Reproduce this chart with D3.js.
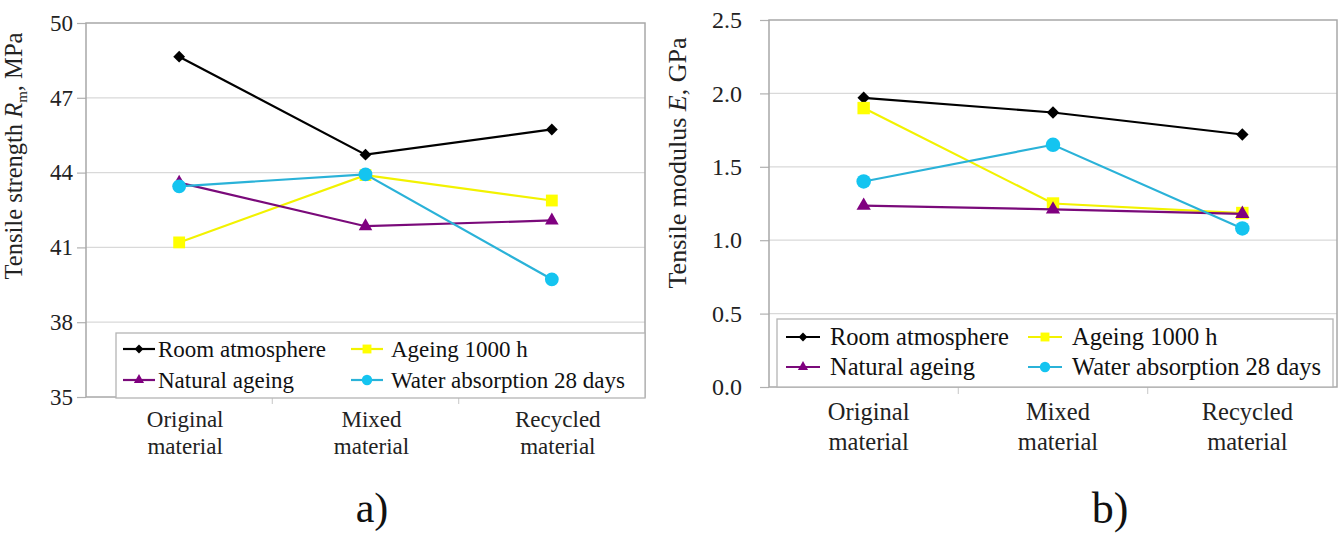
<!DOCTYPE html>
<html>
<head>
<meta charset="utf-8">
<script src="https://cdn.jsdelivr.net/npm/d3@7"></script>
<style>
  html, body { margin: 0; padding: 0; background: #fff; }
  svg { display: block; }
  svg text { font-family: "Liberation Serif", "Times New Roman", serif; }
</style>
</head>
<body>
<svg id="chart" width="1341" height="534"></svg>
<script>
// Material groups along the category axis (two text lines each)
const categories = ["Original material", "Mixed material", "Recycled material"];
const categoryLines = [["Original", "material"], ["Mixed", "material"], ["Recycled", "material"]];

// Conditioning series, in plotting order
const seriesNames = ["Room atmosphere", "Ageing 1000 h", "Natural ageing", "Water absorption 28 days"];

// a) Tensile strength Rm, MPa
const strengthRoom    = [48.65, 44.72, 45.73];
const strengthAgeing  = [41.20, 43.90, 42.88];
const strengthNatural = [43.60, 41.85, 42.08];
const strengthWater   = [43.45, 43.93, 39.72];
const strengthTicks   = [35, 38, 41, 44, 47, 50];

// b) Tensile modulus E, GPa
const modulusRoom    = [1.97, 1.87, 1.72];
const modulusAgeing  = [1.90, 1.25, 1.185];
const modulusNatural = [1.235, 1.21, 1.18];
const modulusWater   = [1.40, 1.65, 1.08];
const modulusTicks   = [0.0, 0.5, 1.0, 1.5, 2.0, 2.5];

const styles = [
  { line: "#000000", fill: "#000000", shape: "diamond" },
  { line: "#f2f200", fill: "#ffff00", shape: "square" },
  { line: "#7a0a7a", fill: "#800080", shape: "triangle" },
  { line: "#2ab2d8", fill: "#14c4f0", shape: "circle" }
];

const svg = d3.select("#chart");

function markerPath(shape, scale) {
  const s = scale || 1;
  if (shape === "diamond") return d3.symbol(d3.symbolSquare, 70 * s * s)();
  if (shape === "square") return d3.symbol(d3.symbolSquare, 140 * s * s)();
  if (shape === "triangle") return d3.symbol(d3.symbolTriangle, 80 * s * s)();
  return d3.symbol(d3.symbolCircle, 150 * s * s)();
}

function drawPanel(p) {
  const g = svg.append("g");
  const x = d3.scalePoint().domain(categories).range([p.x0, p.x1]).padding(0.5);
  const y = d3.scaleLinear().domain([p.ticks[0], p.ticks[p.ticks.length - 1]]).range([p.y1, p.y0]);

  // horizontal gridlines
  g.append("g").selectAll("line").data(p.ticks.slice(1, -1)).join("line")
    .attr("x1", p.x0).attr("x2", p.x1)
    .attr("y1", d => y(d)).attr("y2", d => y(d))
    .attr("stroke", "#d9d9d9").attr("stroke-width", 1.2);

  // value axis with outside ticks
  const ya = g.append("g").attr("transform", `translate(${p.x0},0)`)
    .call(d3.axisLeft(y).tickValues(p.ticks).tickFormat(p.fmt)
      .tickSize(p.tickLen).tickPadding(p.tickPad));
  ya.attr("font-family", null).attr("font-size", null);
  ya.select(".domain").remove();
  ya.selectAll(".tick line").attr("stroke", "#b0b0b0").attr("stroke-width", 1.2);
  ya.selectAll(".tick text").attr("fill", "#222").attr("font-size", p.tickFont);

  // category separators below the axis
  const step = x.step();
  g.append("g").selectAll("line").data(categories.slice(1)).join("line")
    .attr("x1", d => x(d) - step / 2).attr("x2", d => x(d) - step / 2)
    .attr("y1", p.y1).attr("y2", p.y1 + 7)
    .attr("stroke", "#d0d0d0").attr("stroke-width", 1.2);

  // plot frame
  g.append("rect").attr("x", p.x0).attr("y", p.y0)
    .attr("width", p.x1 - p.x0).attr("height", p.y1 - p.y0)
    .attr("fill", "none").attr("stroke", "#a8a8a8").attr("stroke-width", 1.5);

  // category labels
  const cl = g.append("g").selectAll("text").data(categories).join("text")
    .attr("text-anchor", "middle").attr("font-size", p.catFont).attr("fill", "#222");
  cl.each(function (d, i) {
    const t = d3.select(this);
    categoryLines[i].forEach((line, k) => {
      t.append("tspan").attr("x", x(d) + p.catDx).attr("y", p.catY + k * p.catGap).text(line);
    });
  });

  // series lines and markers
  p.series.forEach((vals, si) => {
    const st = styles[si];
    const pts = vals.map((v, i) => [x(categories[i]), y(v)]);
    g.append("path").attr("d", d3.line()(pts))
      .attr("fill", "none").attr("stroke", st.line).attr("stroke-width", 2.2);
    g.append("g").selectAll("path").data(pts).join("path")
      .attr("d", markerPath(st.shape, p.markerScale))
      .attr("transform", d => `translate(${d[0]},${d[1]})` + (st.shape === "diamond" ? " rotate(45)" : ""))
      .attr("fill", st.fill);
  });

  // axis title
  const title = g.append("text")
    .attr("transform", `translate(${p.titleX},${p.titleY}) rotate(-90)`)
    .attr("text-anchor", "middle").attr("font-size", p.titleFont).attr("fill", "#222");
  p.title(title);

  // legend
  const L = p.legend;
  g.append("rect").attr("x", L.x0).attr("y", L.y0)
    .attr("width", L.x1 - L.x0).attr("height", L.y1 - L.y0)
    .attr("fill", "#fff").attr("stroke", "#b4b4b4").attr("stroke-width", 1.3);
  seriesNames.forEach((name, si) => {
    const col = si % 2, row = Math.floor(si / 2);
    const lx = L.cols[col], ly = L.rows[row];
    const st = styles[si];
    const item = g.append("g");
    item.append("line").attr("x1", lx).attr("x2", lx + L.symW)
      .attr("y1", ly).attr("y2", ly).attr("stroke", st.line).attr("stroke-width", 2.2);
    item.append("path").attr("d", markerPath(st.shape, 0.75))
      .attr("transform", `translate(${lx + L.symW / 2},${ly})` + (st.shape === "diamond" ? " rotate(45)" : ""))
      .attr("fill", st.fill);
    item.append("text").attr("x", lx + L.symW + L.textGap[col]).attr("y", ly)
      .attr("dy", "0.34em").attr("font-size", L.font).attr("fill", "#111").text(name);
  });

  // panel tag
  g.append("text").attr("x", p.tagX).attr("y", p.tagY).attr("text-anchor", "middle")
    .attr("font-size", p.tagFont).attr("fill", "#111").text(p.tag);
}

drawPanel({
  x0: 86, x1: 645, y0: 23, y1: 397,
  ticks: strengthTicks, fmt: d3.format("d"),
  tickLen: 9, tickPad: 4, tickFont: 23,
  catY: 427, catGap: 27, catDx: 6, catFont: 23,
  series: [strengthRoom, strengthAgeing, strengthNatural, strengthWater],
  markerScale: 1,
  titleX: 22, titleY: 156, titleFont: 24.5,
  title: t => {
    t.append("tspan").text("Tensile strength ");
    t.append("tspan").attr("font-style", "italic").text("R");
    t.append("tspan").attr("font-size", 15).attr("dy", 5).text("m");
    t.append("tspan").attr("dy", -5).text(", MPa");
  },
  legend: { x0: 116, x1: 645, y0: 333, y1: 398, cols: [123, 351], rows: [349, 380], symW: 32, textGap: [3, 8], font: 23 },
  tag: "a)", tagX: 372, tagY: 522, tagFont: 42
});

drawPanel({
  x0: 769, x1: 1337, y0: 20, y1: 387,
  ticks: modulusTicks, fmt: d3.format(".1f"),
  tickLen: 9, tickPad: 18, tickFont: 24,
  catY: 420, catGap: 30, catDx: 5, catFont: 24.5,
  series: [modulusRoom, modulusAgeing, modulusNatural, modulusWater],
  markerScale: 1.05,
  titleX: 686, titleY: 163, titleFont: 26,
  title: t => {
    t.append("tspan").text("Tensile modulus ");
    t.append("tspan").attr("font-style", "italic").text("E");
    t.append("tspan").text(", GPa");
  },
  legend: { x0: 777, x1: 1333, y0: 319, y1: 387, cols: [786, 1028], rows: [337, 367], symW: 34, textGap: [10, 10], font: 24.5 },
  tag: "b)", tagX: 1110, tagY: 523, tagFont: 44
});
</script>
</body>
</html>
